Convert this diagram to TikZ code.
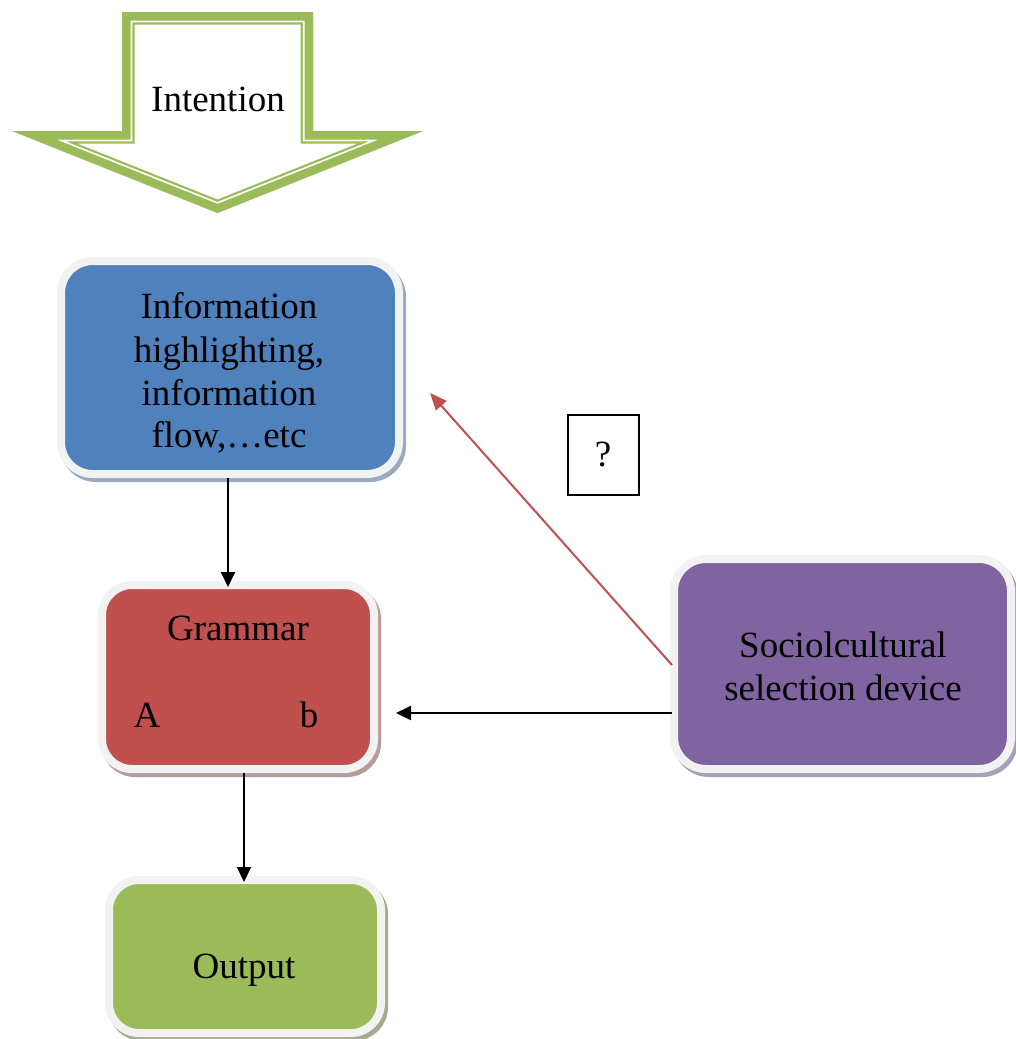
\documentclass[tikz,border=0pt]{standalone}
\usepackage{fontspec}
\setmainfont{Liberation Serif}
\usetikzlibrary{calc,shadows,arrows.meta}

\definecolor{boxblue}{HTML}{4F81BD}
\definecolor{boxred}{HTML}{C0504D}
\definecolor{boxpurple}{HTML}{8064A2}
\definecolor{boxgreen}{HTML}{9BBB59}
\definecolor{rimgray}{HTML}{F2F2F2}
\definecolor{shblue}{HTML}{9AA8C0}
\definecolor{shred}{HTML}{B89B9B}
\definecolor{shpurple}{HTML}{A7A0B8}
\definecolor{shgreen}{HTML}{A3AD8C}
\definecolor{arrowgreen}{HTML}{9BBB59}
\definecolor{linkred}{HTML}{C0504D}

% outline of the big "Intention" block arrow
\def\intentionoutline{(122,12) -- (313,12) -- (313,131) -- (423,131) -- (217.5,213) -- (12,131) -- (122,131) -- cycle}

\begin{document}
\begin{tikzpicture}[x=1pt,y=-1pt,
  panel/.style={rectangle, draw=rimgray, line width=8pt, inner sep=0pt, rounded corners=32pt},
  shade/.style={drop shadow={shadow xshift=3pt, shadow yshift=-4pt, fill=#1, draw=#1, line width=8pt, opacity=1}},
  txt/.style={font=\fontsize{37}{43}\selectfont, inner sep=0pt, anchor=base},
  arr/.style={-{Triangle[length=15pt,width=14pt]}, line width=2pt, black},
  redarr/.style={-{Triangle[length=17pt,width=14pt]}, line width=2pt, linkred}]

\useasboundingbox (0,0) rectangle (1015,1039);

% block arrow: thick outer band, white gap, thin inner line
\begin{scope}
  \clip \intentionoutline;
  \draw[arrowgreen, line width=25pt, line join=miter] \intentionoutline;
  \draw[white, line width=20.5pt, line join=miter] \intentionoutline;
  \draw[arrowgreen, line width=17pt, line join=miter] \intentionoutline;
\end{scope}
\node[txt] (intent) at (218,111) {Intention};

% boxes
\node[panel, fill=boxblue, shade=shblue, minimum width=338, minimum height=213] (info) at (230,367.5) {};
\node[panel, fill=boxred, shade=shred, rounded corners=30pt, minimum width=272, minimum height=184] (gram) at (238,677) {};
\node[panel, fill=boxpurple, shade=shpurple, minimum width=337, minimum height=210] (socio) at (842.5,664) {};
\node[panel, fill=boxgreen, shade=shgreen, rounded corners=30pt, minimum width=272, minimum height=153] (out) at (245,956.5) {};

% box texts
\node[txt] (info1) at (229,318) {Information};
\node[txt] (info2) at (229,362) {highlighting,};
\node[txt] (info3) at (229,405) {information};
\node[txt] (info4) at (229,447) {flow,…etc};

\node[txt] (gtitle) at (238,640) {Grammar};
\node[txt] (ga) at (147,727) {A};
\node[txt] (gb) at (309,727) {b};

\node[txt] (soc1) at (843,657) {Sociolcultural};
\node[txt] (soc2) at (843,700) {selection device};

\node[txt] (outtxt) at (244,978) {Output};

% question box
\node[draw, line width=1.3pt, minimum width=71, minimum height=80, inner sep=0pt] (q) at (603.5,455) {};
\node[txt] (qmark) at (603,466) {?};

% connectors
\coordinate (redtip) at (430,393);
\draw[arr] ($(info.south)+(-2,0)$) -- ($(gram.north)+(-10,6)$);
\draw[arr] ($(gram.south)+(6,0)$) -- ($(out.north)+(-1,6)$);
\draw[arr] ($(socio.west)+(2,49)$) -- ($(gram.east)+(18,36)$);
\draw[redarr] ($(socio.west)+(2,1)$) -- (redtip);

\end{tikzpicture}
\end{document}
